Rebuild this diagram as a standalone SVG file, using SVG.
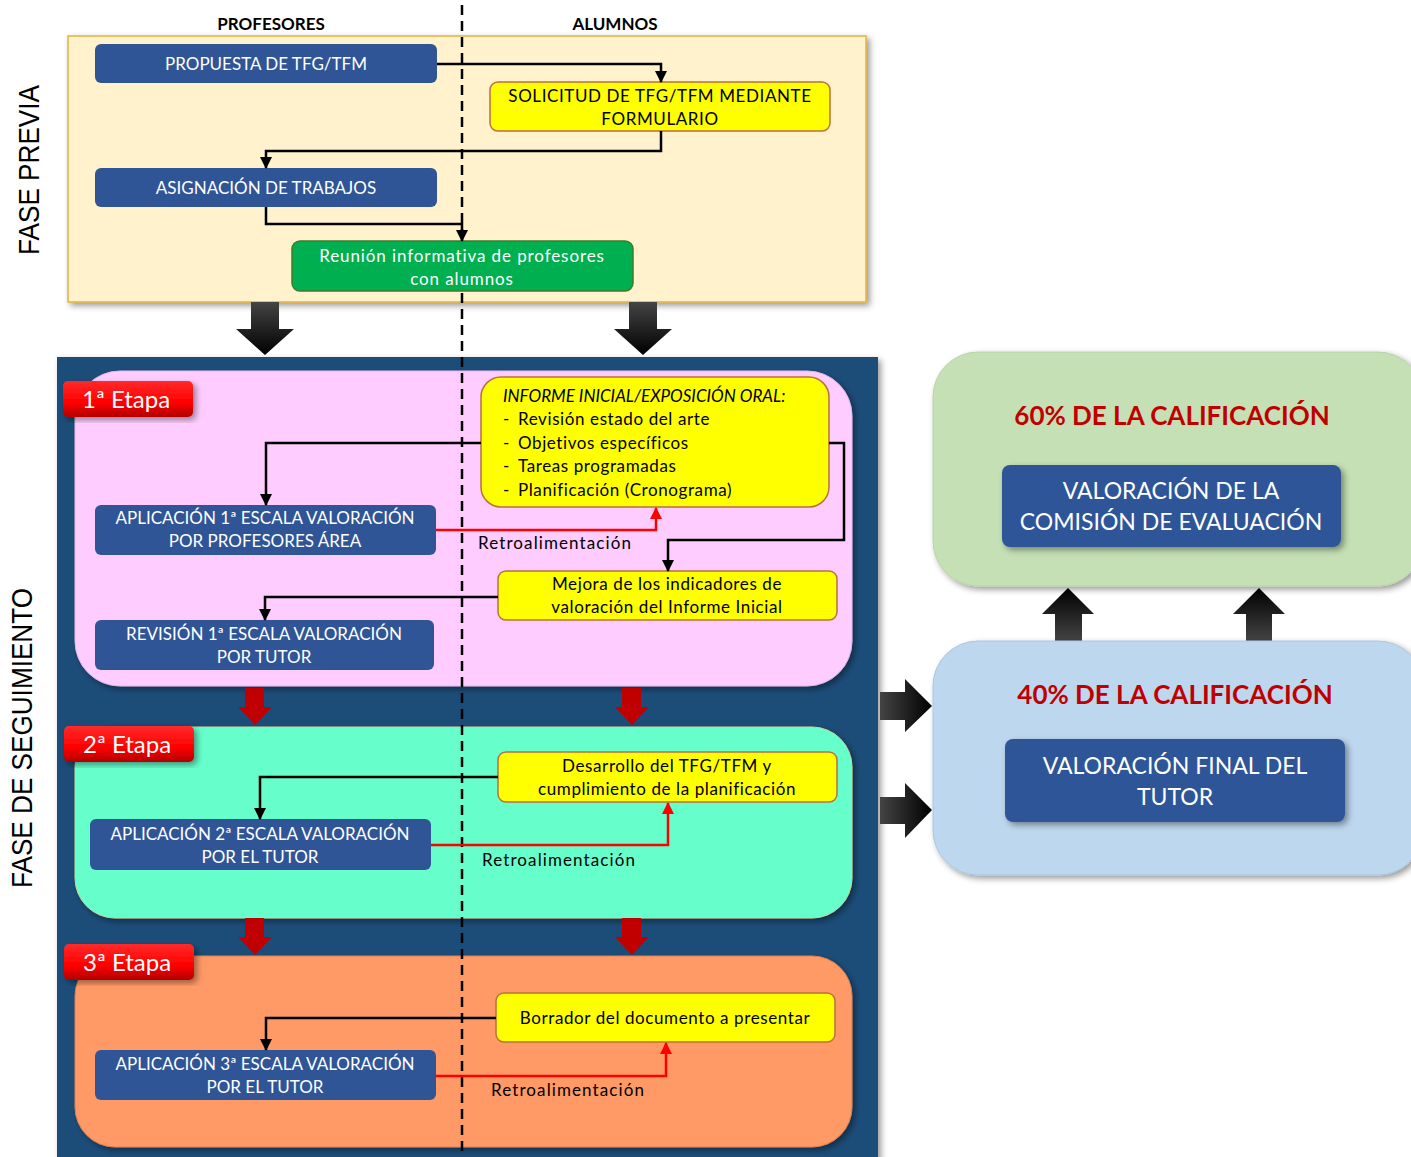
<svg xmlns="http://www.w3.org/2000/svg" width="1411" height="1157" viewBox="0 0 1411 1157">
<defs>
<style>
.t{font-family:Lato,"Open Sans","Liberation Sans",sans-serif;}
.w{fill:#fff;font-size:17px;text-anchor:middle;}
.k{fill:#000;font-size:17px;text-anchor:middle;letter-spacing:0.6px;}
.blue{fill:#2f5597;}
.yel{fill:#ffff00;stroke:#b9703f;stroke-width:1.5;}
.c{fill:none;stroke:#000;stroke-width:2.5;}
.r{fill:none;stroke:#ff0000;stroke-width:2.5;}
.big{font-size:23px;fill:#fff;text-anchor:middle;}
.pct{font-size:26px;font-weight:bold;fill:#c00000;text-anchor:middle;}
.et{font-size:24px;fill:#fff;}
.ret{font-size:17px;letter-spacing:1.1px;}
</style>
<marker id="ah" markerWidth="12" markerHeight="12" refX="11" refY="6" orient="auto" markerUnits="userSpaceOnUse"><path d="M0,0 L12,6 L0,12 z" fill="#000"/></marker>
<marker id="ahr" markerWidth="12" markerHeight="12" refX="11" refY="6" orient="auto" markerUnits="userSpaceOnUse"><path d="M0,0 L12,6 L0,12 z" fill="#ff0000"/></marker>
<filter id="sh" x="-10%" y="-10%" width="125%" height="125%"><feDropShadow dx="3" dy="3" stdDeviation="3" flood-color="#000" flood-opacity="0.4"/></filter>
<linearGradient id="red" x1="0" y1="0" x2="0" y2="1"><stop offset="0" stop-color="#ff2a2a"/><stop offset="0.6" stop-color="#ff0000"/><stop offset="1" stop-color="#b00000"/></linearGradient>
<linearGradient id="bv" x1="0" y1="0" x2="0" y2="1"><stop offset="0" stop-color="#444"/><stop offset="1" stop-color="#000"/></linearGradient>
<linearGradient id="bh" x1="0" y1="0" x2="1" y2="0"><stop offset="0" stop-color="#444"/><stop offset="1" stop-color="#000"/></linearGradient>
<linearGradient id="bu" x1="0" y1="1" x2="0" y2="0"><stop offset="0" stop-color="#444"/><stop offset="1" stop-color="#000"/></linearGradient>
</defs>
<rect width="1411" height="1157" fill="#fff"/>

<g id="headers" class="t">
<text x="271" y="30" font-size="17" font-weight="bold" text-anchor="middle">PROFESORES</text>
<text x="615" y="30" font-size="17" font-weight="bold" text-anchor="middle">ALUMNOS</text>
<text transform="translate(39,170) rotate(-90)" font-family="'Liberation Sans',Arial,sans-serif" font-size="30" text-anchor="middle" textLength="170" lengthAdjust="spacingAndGlyphs">FASE PREVIA</text>
<text transform="translate(32,738) rotate(-90)" font-family="'Liberation Sans',Arial,sans-serif" font-size="30" text-anchor="middle" textLength="300" lengthAdjust="spacingAndGlyphs">FASE DE SEGUIMIENTO</text>
</g>

<g id="fase-previa">
<rect x="68" y="36" width="798" height="266" fill="#fff2cc" stroke="#e2b13c" stroke-width="1.5" filter="url(#sh)"/>
</g>

<g id="fase-seguimiento">
<rect x="57" y="357" width="821" height="810" fill="#1f4e79" filter="url(#sh)"/>
</g>

<g id="etapa1-area"><rect x="75" y="371" width="777" height="315" rx="45" fill="#ffccff" stroke="#e6b8e6" filter="url(#sh)"/></g>
<g id="etapa2-area"><rect x="75" y="727" width="777" height="191" rx="40" fill="#66ffcc" stroke="#c8d890" filter="url(#sh)"/></g>
<g id="etapa3-area"><rect x="75" y="956" width="777" height="191" rx="40" fill="#ff9966" stroke="#e08050" filter="url(#sh)"/></g>

<g id="big-arrows">
<path d="M251,302 H279 V329 H294 L265,355 L236,329 H251 Z" fill="url(#bv)"/>
<path d="M629,302 H657 V329 H672 L643,355 L614,329 H629 Z" fill="url(#bv)"/>
<path d="M245,688 H264 V707 H272 L255,725 L238,707 H245 Z" fill="#c00000"/>
<path d="M622,688 H641 V707 H649 L632,725 L615,707 H622 Z" fill="#c00000"/>
<path d="M245,918 H264 V937 H272 L255,955 L238,937 H245 Z" fill="#c00000"/>
<path d="M622,918 H641 V937 H649 L632,955 L615,937 H622 Z" fill="#c00000"/>
<path d="M880,692 H905 V679 L932,706 L905,732 V720 H880 Z" fill="url(#bh)"/>
<path d="M880,797 H905 V783 L932,810 L905,838 V824 H880 Z" fill="url(#bh)"/>
<path d="M1055,641 H1082 V614 H1094 L1068,588 L1042,614 H1055 Z" fill="url(#bu)"/>
<path d="M1246,641 H1272 V614 H1285 L1259,588 L1233,614 H1246 Z" fill="url(#bu)"/>
</g>

<g id="dashed-line"><line x1="462" y1="5" x2="462" y2="1157" stroke="#000" stroke-width="2.5" stroke-dasharray="10 6"/></g>

<g id="n-propuesta" class="t"><rect class="blue" x="95" y="44" width="342" height="39" rx="6"/><text class="w" x="266" y="70">PROPUESTA DE TFG/TFM</text></g>
<g id="n-solicitud" class="t"><rect class="yel" x="490" y="82" width="340" height="49" rx="8"/><text class="k" x="660" y="102" letter-spacing="0">SOLICITUD DE TFG/TFM MEDIANTE</text><text class="k" x="660" y="125" letter-spacing="0">FORMULARIO</text></g>
<g id="n-asignacion" class="t"><rect class="blue" x="95" y="168" width="342" height="39" rx="6"/><text class="w" x="266" y="194">ASIGNACIÓN DE TRABAJOS</text></g>
<g id="n-reunion" class="t"><rect x="292" y="241" width="341" height="50" rx="8" fill="#00b050" stroke="#3c7d2a" stroke-width="1.5"/><text class="w" x="462" y="262" letter-spacing="0.9">Reunión informativa de profesores</text><text class="w" x="462" y="285" letter-spacing="0.9">con alumnos</text></g>

<g id="n-etapa1" class="t"><rect x="63" y="381" width="130" height="36" rx="5" fill="url(#red)" filter="url(#sh)"/><text class="et" x="82" y="408">1ª Etapa</text></g>
<g id="n-informe" class="t"><rect class="yel" x="481" y="377" width="348" height="130" rx="20"/>
<text x="503" y="402" font-size="17" font-style="italic">INFORME INICIAL/EXPOSICIÓN ORAL:</text>
<g font-size="17" letter-spacing="0.6"><text x="503" y="425">-</text><text x="518" y="425">Revisión estado del arte</text>
<text x="503" y="449">-</text><text x="518" y="449">Objetivos específicos</text>
<text x="503" y="472">-</text><text x="518" y="472">Tareas programadas</text>
<text x="503" y="496">-</text><text x="518" y="496">Planificación (Cronograma)</text></g></g>
<g id="n-aplic1" class="t"><rect class="blue" x="95" y="505" width="341" height="50" rx="6"/><text class="w" x="265" y="524">APLICACIÓN 1ª ESCALA VALORACIÓN</text><text class="w" x="265" y="547">POR PROFESORES ÁREA</text></g>
<g id="n-mejora" class="t"><rect class="yel" x="498" y="571" width="339" height="49" rx="8"/><text class="k" x="667" y="590">Mejora de los indicadores de</text><text class="k" x="667" y="613">valoración del Informe Inicial</text></g>
<g id="n-revision1" class="t"><rect class="blue" x="95" y="620" width="339" height="50" rx="6"/><text class="w" x="264" y="640">REVISIÓN 1ª ESCALA VALORACIÓN</text><text class="w" x="264" y="663">POR TUTOR</text></g>

<g id="n-etapa2" class="t"><rect x="64" y="726" width="130" height="36" rx="5" fill="url(#red)" filter="url(#sh)"/><text class="et" x="83" y="753">2ª Etapa</text></g>
<g id="n-desarrollo" class="t"><rect class="yel" x="498" y="752" width="339" height="50" rx="8"/><text class="k" x="667" y="772">Desarrollo del TFG/TFM y</text><text class="k" x="667" y="795">cumplimiento de la planificación</text></g>
<g id="n-aplic2" class="t"><rect class="blue" x="90" y="819" width="341" height="51" rx="6"/><text class="w" x="260" y="840">APLICACIÓN 2ª ESCALA VALORACIÓN</text><text class="w" x="260" y="863">POR EL TUTOR</text></g>

<g id="n-etapa3" class="t"><rect x="64" y="944" width="130" height="36" rx="5" fill="url(#red)" filter="url(#sh)"/><text class="et" x="83" y="971">3ª Etapa</text></g>
<g id="n-borrador" class="t"><rect class="yel" x="496" y="993" width="339" height="49" rx="8"/><text class="k" x="665" y="1024">Borrador del documento a presentar</text></g>
<g id="n-aplic3" class="t"><rect class="blue" x="95" y="1050" width="341" height="50" rx="6"/><text class="w" x="265" y="1070">APLICACIÓN 3ª ESCALA VALORACIÓN</text><text class="w" x="265" y="1093">POR EL TUTOR</text></g>

<g id="n-60" class="t"><rect x="933" y="352" width="490" height="234" rx="45" fill="#c5e0b4" stroke="#b8d4a6" filter="url(#sh)"/><text class="pct" x="1172" y="425">60% DE LA CALIFICACIÓN</text>
<rect class="blue" x="1002" y="465" width="339" height="82" rx="8" filter="url(#sh)"/><text class="big" x="1171" y="499">VALORACIÓN DE LA</text><text class="big" x="1171" y="530">COMISIÓN DE EVALUACIÓN</text></g>
<g id="n-40" class="t"><rect x="933" y="641" width="490" height="234" rx="45" fill="#bdd7ee" stroke="#a9c6e2" filter="url(#sh)"/><text class="pct" x="1175" y="704">40% DE LA CALIFICACIÓN</text>
<rect class="blue" x="1005" y="739" width="340" height="83" rx="8" filter="url(#sh)"/><text class="big" x="1175" y="774">VALORACIÓN FINAL DEL</text><text class="big" x="1175" y="805">TUTOR</text></g>

<g id="connectors">
<path class="c" d="M437,64 H661 V82" marker-end="url(#ah)"/>
<path class="c" d="M661,131 V151 H266 V168" marker-end="url(#ah)"/>
<path class="c" d="M266,207 V224 H462 V241" marker-end="url(#ah)"/>
<path class="c" d="M481,443 H266 V505" marker-end="url(#ah)"/>
<path class="r" d="M436,530 H656 V508" marker-end="url(#ahr)"/>
<path class="c" d="M829,443 H844 V540 H668 V571" marker-end="url(#ah)"/>
<path class="c" d="M498,597 H265 V620" marker-end="url(#ah)"/>
<path class="c" d="M498,777 H260 V819" marker-end="url(#ah)"/>
<path class="r" d="M431,845 H668 V803" marker-end="url(#ahr)"/>
<path class="c" d="M496,1018 H266 V1050" marker-end="url(#ah)"/>
<path class="r" d="M436,1076 H666 V1043" marker-end="url(#ahr)"/>
<g class="t ret"><text x="478" y="549">Retroalimentación</text><text x="482" y="866">Retroalimentación</text><text x="491" y="1096">Retroalimentación</text></g>
</g>
</svg>
